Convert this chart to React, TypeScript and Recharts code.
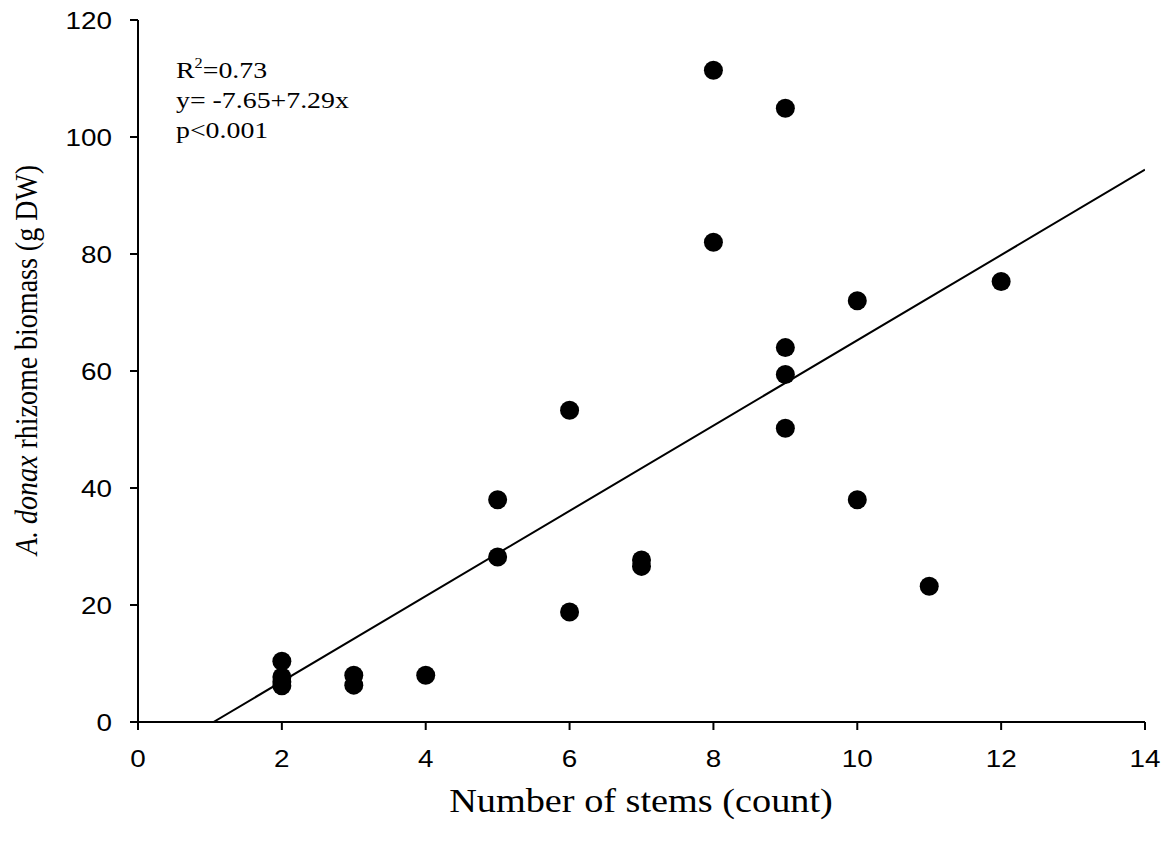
import {
  ScatterChart,
  Scatter,
  XAxis,
  YAxis,
  Customized
} from 'recharts'

// stems vs rhizome biomass
const stems = [2, 2, 2, 2, 3, 3, 4, 5, 5, 6, 6, 7, 7, 8, 8, 9, 9, 9, 9, 10, 10, 11, 12]
const biomass = [10.4, 7.7, 6.9, 6.2, 8.0, 6.3, 8.0, 38.0, 28.2, 53.3, 18.8, 27.7, 26.6, 111.4, 82.0, 104.9, 64.0, 59.4, 50.2, 72.0, 38.0, 23.2, 75.3]

const xTicks = [0, 2, 4, 6, 8, 10, 12, 14]
const yTicks = [0, 20, 40, 60, 80, 100, 120]

// fitted line y = -7.65 + 7.29x
const intercept = -7.65
const slope = 7.29
const fitX = [-intercept / slope, 14]

const points = stems.map((x, i) => ({ x, y: biomass[i] }))
const fitLine = fitX.map((x) => ({ x, y: intercept + slope * x }))

const sans = 'Liberation Sans, Arial, sans-serif'
const serif = 'Liberation Serif, Times New Roman, serif'
// the original figure is a bit stretched sideways
const stretch = 1.16

function Tick(props: any) {
  const { x, y, payload, textAnchor, vertical } = props
  return (
    <text
      transform={`translate(${x} ${y}) scale(${stretch} 1)`}
      textAnchor={textAnchor}
      dy={vertical ? '0.355em' : '0.71em'}
      fontFamily={sans}
      fontSize={24}
      fill="#000"
    >
      {payload.value}
    </text>
  )
}

function Dot(props: any) {
  return <circle cx={props.cx} cy={props.cy} r={9.5} fill="#000" />
}

function Annotations() {
  return (
    <g fontFamily={serif} fill="#000">
      <g transform={`translate(176 0) scale(${stretch} 1)`} fontSize={24}>
        <text x={0} y={78}>
          R<tspan dy={-10} fontSize={14}>2</tspan>
          <tspan dy={10}>=0.73</tspan>
        </text>
        <text x={0} y={108}>y= -7.65+7.29x</text>
        <text x={0} y={138}>p&lt;0.001</text>
      </g>
      <text
        fontSize={33}
        textAnchor="middle"
        transform={`translate(641 812) scale(${stretch} 1)`}
      >
        Number of stems (count)
      </text>
      <text
        fontSize={28}
        textAnchor="middle"
        transform={`translate(37 360) rotate(-90) scale(1 ${stretch})`}
      >
        <tspan fontStyle="italic">A. donax</tspan> rhizome biomass (g DW)
      </text>
    </g>
  )
}

export default function App() {
  return (
    <div style={{ position: 'absolute', left: 0, top: 0, background: '#fff' }}>
      <ScatterChart
        width={1174}
        height={844}
        margin={{ top: 20, right: 29, bottom: 0, left: 0 }}
      >
        <XAxis
          xAxisId="bottom"
          type="number"
          dataKey="x"
          domain={[0, 14]}
          ticks={xTicks}
          height={122}
          tickSize={8}
          tickMargin={20}
          tick={<Tick />}
          axisLine={{ stroke: '#000', strokeWidth: 2 }}
          tickLine={{ stroke: '#000', strokeWidth: 2 }}
          allowDataOverflow
        />
        <XAxis
          xAxisId="top"
          orientation="top"
          type="number"
          dataKey="x"
          domain={[0, 14]}
          height={0}
          tick={false}
          tickLine={false}
          axisLine={{ stroke: '#000', strokeWidth: 2 }}
        />
        <YAxis
          yAxisId="left"
          type="number"
          dataKey="y"
          domain={[0, 120]}
          ticks={yTicks}
          width={138}
          tickSize={8}
          tickMargin={18}
          tick={<Tick vertical />}
          axisLine={{ stroke: '#000', strokeWidth: 2 }}
          tickLine={{ stroke: '#000', strokeWidth: 2 }}
          allowDataOverflow
        />
        <YAxis
          yAxisId="right"
          orientation="right"
          type="number"
          dataKey="y"
          domain={[0, 120]}
          width={0}
          tick={false}
          tickLine={false}
          axisLine={{ stroke: '#000', strokeWidth: 2 }}
        />
        <Scatter
          xAxisId="bottom"
          yAxisId="left"
          data={fitLine}
          line={{ stroke: '#000', strokeWidth: 2 }}
          shape={() => null}
          isAnimationActive={false}
        />
        <Scatter
          xAxisId="bottom"
          yAxisId="left"
          data={points}
          shape={<Dot />}
          isAnimationActive={false}
        />
        <Customized component={Annotations} />
      </ScatterChart>
    </div>
  )
}
